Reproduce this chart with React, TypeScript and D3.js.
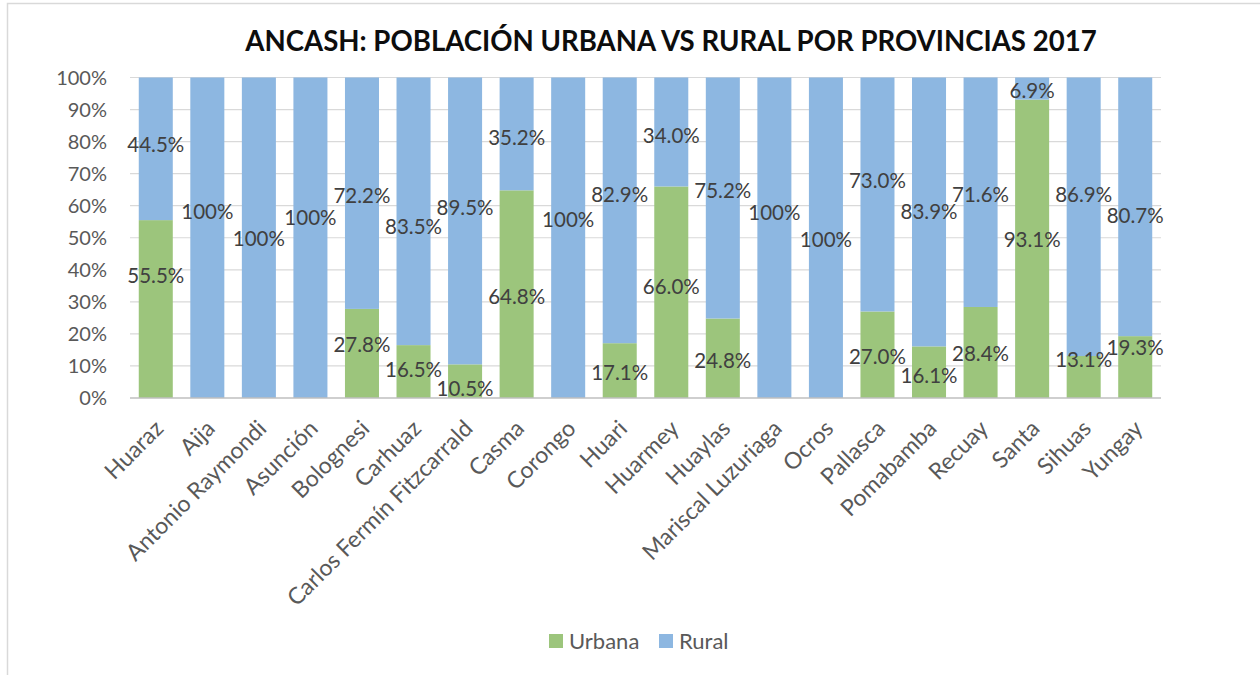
import React from 'react';
import * as d3 from 'd3';

// provincias de Ancash, censo 2017 (% de población)
const provinces = [
  'Huaraz', 'Aija', 'Antonio Raymondi', 'Asunción', 'Bolognesi', 'Carhuaz',
  'Carlos Fermín Fitzcarrald', 'Casma', 'Corongo', 'Huari', 'Huarmey', 'Huaylas',
  'Mariscal Luzuriaga', 'Ocros', 'Pallasca', 'Pomabamba', 'Recuay', 'Santa', 'Sihuas', 'Yungay',
];
const urbana = [55.5, 0, 0, 0, 27.8, 16.5, 10.5, 64.8, 0, 17.1, 66.0, 24.8, 0, 0, 27.0, 16.1, 28.4, 93.1, 13.1, 19.3];
const rural = [44.5, 100, 100, 100, 72.2, 83.5, 89.5, 35.2, 100, 82.9, 34.0, 75.2, 100, 100, 73.0, 83.9, 71.6, 6.9, 86.9, 80.7];

// where Excel left each data label (in % of the axis)
const urbanaLabelAt = [38.3, null, null, null, 16.8, 9.0, 2.9, 31.5, null, 7.8, 34.6, 11.6, null, null, 12.8, 6.9, 13.9, 49.5, 12.0, 15.7];
const ruralLabelAt = [79.0, 58.1, 49.8, 56.4, 63.3, 53.5, 59.4, 81.3, 55.7, 63.5, 82.0, 64.7, 57.7, 49.3, 67.8, 58.0, 63.5, 95.9, 63.5, 56.8];

const yTicks = [0, 10, 20, 30, 40, 50, 60, 70, 80, 90, 100];

const series = [
  { key: 'urbana', name: 'Urbana', color: '#9CC57C' },
  { key: 'rural', name: 'Rural', color: '#8DB7E1' },
];

const W = 1260;
const H = 675;
const font = 'Lato, "Open Sans", sans-serif';

const fmt = (v) => (v === 100 ? '100%' : v.toFixed(1) + '%');

const App = () => {
  const rows = provinces.map((p, i) => ({ province: p, urbana: urbana[i], rural: rural[i] }));
  const stacked = d3.stack().keys(series.map((s) => s.key))(rows);

  const x = d3.scaleBand().domain(provinces).range([130, 1161]).paddingInner(0.34).paddingOuter(0.17);
  const y = d3.scaleLinear().domain([0, 100]).range([398, 77.5]);

  return (
    <svg width={W} height={H} style={{ position: 'absolute', left: 0, top: 0, background: '#fff' }}>
      {/* chart frame (cut at right and bottom) */}
      <path d={`M7.5,${H} V3.5 H${W}`} fill="none" stroke="#D9D9D9" strokeWidth={1.5} />

      <text x={671} y={51} textAnchor="middle" fontFamily={font} fontWeight="bold" fontSize={27.6} fill="#0D0D0D">
        ANCASH: POBLACIÓN URBANA VS RURAL POR PROVINCIAS 2017
      </text>

      {/* gridlines + y labels */}
      {yTicks.map((t) => (
        <g key={t}>
          {t > 0 && <line x1={130} x2={1161} y1={y(t)} y2={y(t)} stroke="#D9D9D9" strokeWidth={1.2} />}
          <text x={107} y={y(t)} dy="0.36em" textAnchor="end" fontFamily={font} fontSize={20} fill="#595959">
            {t}%
          </text>
        </g>
      ))}

      {/* bars */}
      {stacked.map((layer, si) => (
        <g key={layer.key} fill={series[si].color}>
          {layer.map((d, i) => (
            <rect
              key={i}
              x={x(provinces[i])}
              width={x.bandwidth()}
              y={y(d[1])}
              height={y(d[0]) - y(d[1])}
            />
          ))}
        </g>
      ))}

      <line x1={130} x2={1161} y1={y(0)} y2={y(0)} stroke="#BFBFBF" strokeWidth={1.5} />

      {/* data labels */}
      {provinces.map((p, i) => {
        const cx = x(p) + x.bandwidth() / 2;
        return (
          <g key={p} fontFamily={font} fontSize={20.5} fill="#404040" textAnchor="middle">
            {urbanaLabelAt[i] != null && (
              <text x={cx} y={y(urbanaLabelAt[i])} dy="0.36em">{fmt(urbana[i])}</text>
            )}
            <text x={cx} y={y(ruralLabelAt[i])} dy="0.36em">{fmt(rural[i])}</text>
          </g>
        );
      })}

      {/* x labels */}
      {provinces.map((p) => {
        const cx = x(p) + x.bandwidth() / 2;
        return (
          <text
            key={p}
            transform={`translate(${cx + 9},${430}) rotate(-45)`}
            textAnchor="end"
            fontFamily={font}
            fontSize={23}
            fill="#595959"
          >
            {p}
          </text>
        );
      })}

      {/* legend */}
      <g fontFamily={font} fontSize={22} fill="#595959">
        <rect x={549} y={634} width={14} height={14} fill={series[0].color} />
        <text x={569} y={641} dy="0.36em">{series[0].name}</text>
        <rect x={659} y={634} width={14} height={14} fill={series[1].color} />
        <text x={679} y={641} dy="0.36em">{series[1].name}</text>
      </g>
    </svg>
  );
};

export default App;
